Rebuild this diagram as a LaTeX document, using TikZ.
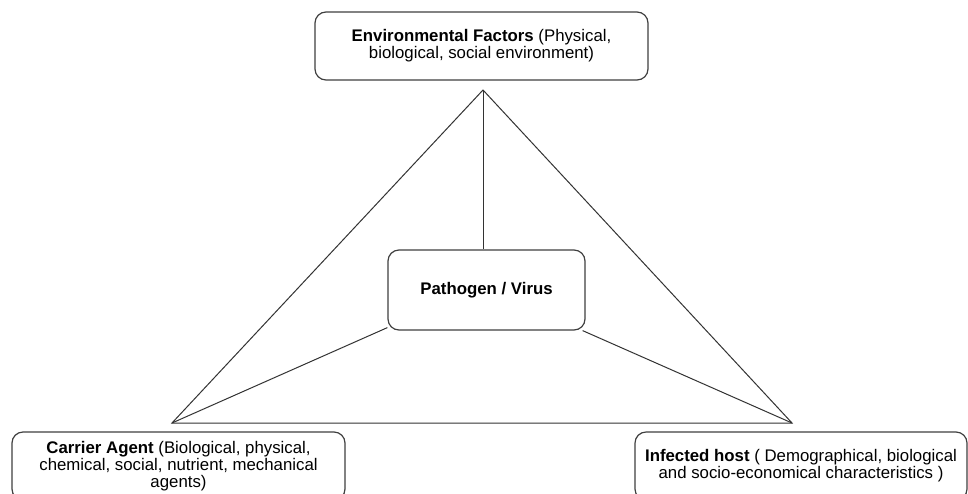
\documentclass[tikz,border=0pt]{standalone}
\usepackage{fontspec}
\setmainfont{Liberation Sans}
\begin{document}
\begin{tikzpicture}[x=1pt,y=-1pt,
  box/.style={draw=black!75,line width=1.2pt,rounded corners=11pt,fill=white,
    align=center,inner sep=0pt,font=\fontsize{16.8}{17}\selectfont},
  edge/.style={draw=black!80,line width=1pt}]
\useasboundingbox (0,0) rectangle (968,493);
\clip (0,0) rectangle (968,493);
\fill[white] (0,0) rectangle (968,493);
\coordinate (apex) at (483,90);
\coordinate (lv) at (172,423);
\coordinate (rv) at (792,423);
\node[box,minimum width=333pt,minimum height=68pt] (env) at (481.5,46)
  {\textbf{Environmental Factors} (Physical,\\biological, social environment)};
\node[box,minimum width=197pt,minimum height=80pt] (path) at (486.5,290)
  {\textbf{Pathogen / Virus}};
\node[box,minimum width=333pt,minimum height=68pt] (carrier) at (178.5,466)
  {\textbf{Carrier Agent} (Biological, physical,\\chemical, social, nutrient, mechanical\\agents)};
\node[box,minimum width=332pt,minimum height=68pt] (host) at (801,466)
  {\textbf{Infected host} ( Demographical, biological\\and socio-economical characteristics )};
\draw[edge] (apex) -- (lv) -- (rv) -- cycle;
\draw[edge] (apex) -- (apex |- path.north);
\draw[edge] (lv) -- ([yshift=3pt]path.south west);
\draw[edge] (rv) -- ([xshift=-3pt]path.south east);
\end{tikzpicture}
\end{document}
